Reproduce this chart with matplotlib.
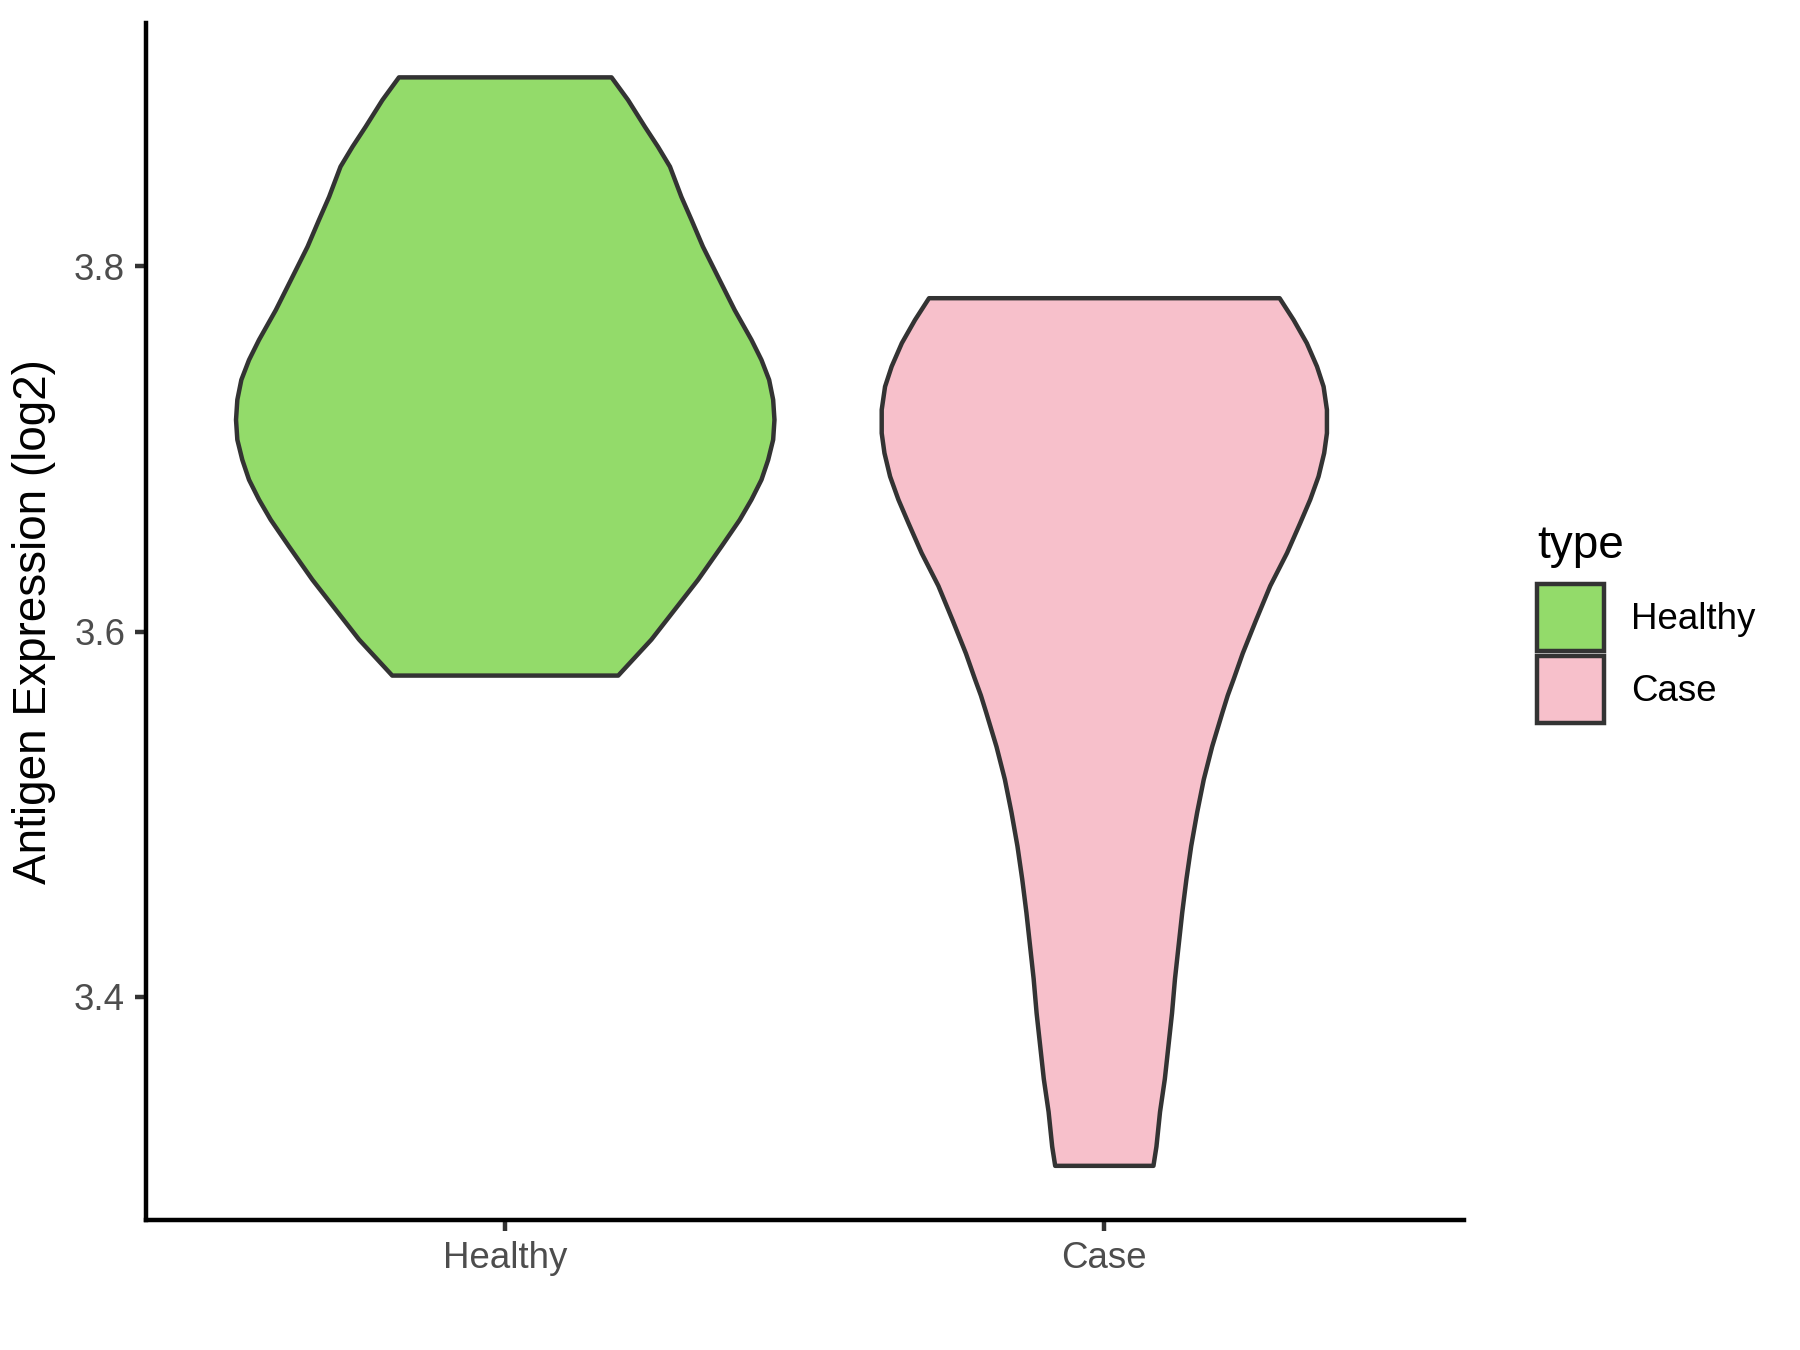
import numpy as np
import matplotlib
matplotlib.use("Agg")
import matplotlib.pyplot as plt
from matplotlib.patches import Patch

plt.rcParams["font.family"] = ["Liberation Sans", "DejaVu Sans"]

# violin outlines: y value and half-width (in category units)
groups = ["Healthy", "Case"]
colors = ["#93DB6A", "#F7C0CB"]

healthy_y = [3.5759, 3.5956, 3.612, 3.6284, 3.6466, 3.6612, 3.6722, 3.6831, 3.694,
             3.705, 3.7159, 3.7269, 3.7378, 3.7487, 3.7597, 3.776, 3.7943, 3.8107,
             3.8253, 3.838, 3.8545, 3.8654, 3.8764, 3.891, 3.9034]
healthy_hw = [0.1886, 0.244, 0.283, 0.322, 0.361, 0.3915, 0.411, 0.4277, 0.4389,
              0.4472, 0.4494, 0.4472, 0.4405, 0.4277, 0.411, 0.383, 0.355, 0.330,
              0.311, 0.294, 0.275, 0.255, 0.233, 0.205, 0.1774]

case_y = [3.3075, 3.318, 3.337, 3.355, 3.373, 3.391, 3.410, 3.428, 3.446, 3.4643,
          3.4825, 3.501, 3.519, 3.537, 3.5555, 3.565, 3.574, 3.588, 3.606, 3.625,
          3.643, 3.6594, 3.6722, 3.6849, 3.6977, 3.7086, 3.7214, 3.7341, 3.7451,
          3.7579, 3.7706, 3.7825]
case_hw = [0.082, 0.087, 0.093, 0.101, 0.107, 0.113, 0.118, 0.124, 0.130, 0.137,
           0.145, 0.155, 0.166, 0.180, 0.197, 0.206, 0.216, 0.231, 0.253, 0.277,
           0.305, 0.327, 0.3437, 0.3576, 0.367, 0.3716, 0.3716, 0.366, 0.355,
           0.338, 0.316, 0.2926]

y_ticks = [3.4, 3.6, 3.8]

profiles = [(healthy_y, healthy_hw), (case_y, case_hw)]

fig = plt.figure(figsize=(6, 4.5), dpi=300)
ax = fig.add_axes([0.081, 0.0961, 0.7322, 0.8869])

LW = 1.07
for i, (ys, hws) in enumerate(profiles):
    pos = i + 1
    ys = np.asarray(ys); hws = np.asarray(hws)
    x = np.concatenate([pos - hws, (pos + hws)[::-1]])
    y = np.concatenate([ys, ys[::-1]])
    ax.fill(x, y, facecolor=colors[i], edgecolor="#333333", linewidth=LW,
            joinstyle="round")

# ggplot-like 5% expansion
lo = min(min(healthy_y), min(case_y)); hi = max(max(healthy_y), max(case_y))
pad = 0.05 * (hi - lo)
ax.set_ylim(lo - pad, hi + pad)
ax.set_xlim(0.4, 2.6)

ax.set_xticks([1, 2])
ax.set_xticklabels(groups)
ax.set_yticks(y_ticks)
ax.set_yticklabels([f"{t:.1f}" for t in y_ticks])
ax.tick_params(length=2.75, width=LW, color="#333333", labelcolor="#4D4D4D",
               labelsize=8.8, pad=2.2)
ax.set_ylabel("Antigen Expression (log2)", fontsize=11, labelpad=4.4)

for s in ["top", "right"]:
    ax.spines[s].set_visible(False)
for s in ["left", "bottom"]:
    ax.spines[s].set_linewidth(LW)
    ax.spines[s].set_color("black")

handles = [Patch(facecolor=c, edgecolor="#333333", linewidth=LW, label=g)
           for g, c in zip(groups, colors)]
leg = fig.legend(handles=handles, title="type", loc="upper left",
                 bbox_to_anchor=(0.854, 0.612), frameon=False, fontsize=8.8,
                 title_fontsize=11, handlelength=1.83, handleheight=2.43,
                 labelspacing=0.14, handletextpad=0.74, borderpad=0,
                 borderaxespad=0)
leg._legend_box.align = "left"
leg._legend_box.sep = 4.0

fig.savefig("out.png", dpi=300)
